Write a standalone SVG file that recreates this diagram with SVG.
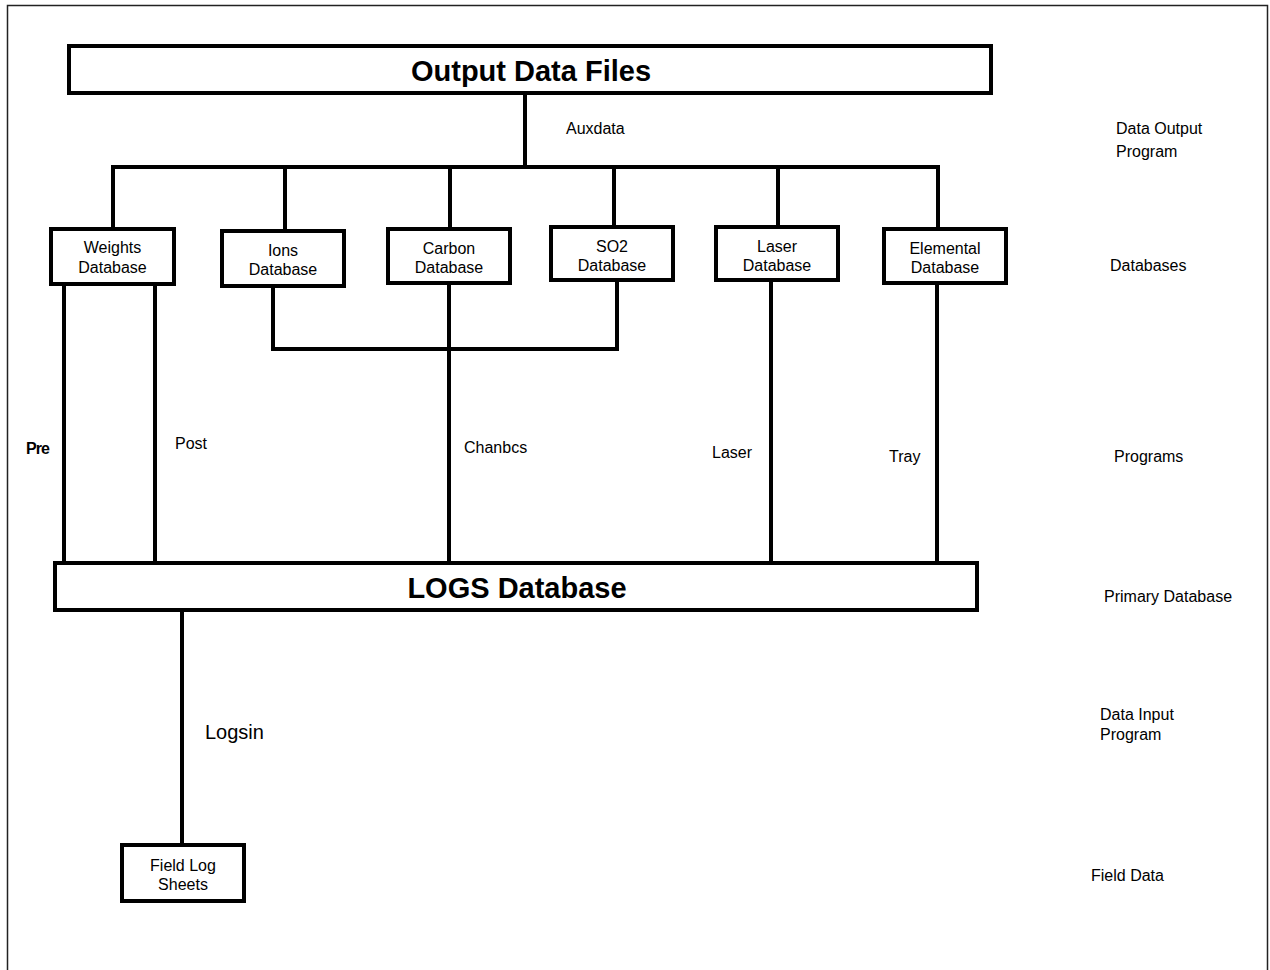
<svg xmlns="http://www.w3.org/2000/svg" width="1270" height="970" viewBox="0 0 1270 970">
  <style>
    .frame { fill: none; stroke: #222; stroke-width: 1.5; }
    .box { fill: #fff; stroke: #000; stroke-width: 4; }
    .wire { fill: none; stroke: #000; stroke-width: 4; stroke-linecap: square; stroke-linejoin: miter; }
    .t { font-family: "Liberation Sans", Arial, sans-serif; font-size: 16px; fill: #000; }
    .c { text-anchor: middle; }
    .lg { font-size: 20px; }
    .pre { font-weight: bold; letter-spacing: -1px; }
    .big { font-family: "Liberation Sans", Arial, sans-serif; font-size: 29px; font-weight: bold; fill: #000; text-anchor: middle; }
  </style>

  <rect width="1270" height="970" fill="#fff"/>
  <!-- page frame (open at the bottom) -->
  <path class="frame" d="M7.5,975 V5.5 H1267.5 V975"/>

  <!-- connectors -->
  <g id="connectors">
    <!-- Auxdata: output files to database bus -->
    <line class="wire" x1="525" y1="93" x2="525" y2="166"/>
    <line class="wire" x1="113" y1="167" x2="938" y2="167"/>
    <line class="wire" x1="113" y1="167" x2="113" y2="228"/>
    <line class="wire" x1="285" y1="167" x2="285" y2="230"/>
    <line class="wire" x1="450" y1="167" x2="450" y2="228"/>
    <line class="wire" x1="614" y1="167" x2="614" y2="226"/>
    <line class="wire" x1="778" y1="167" x2="778" y2="226"/>
    <line class="wire" x1="938" y1="167" x2="938" y2="228"/>
    <!-- Pre / Post -->
    <line class="wire" x1="64" y1="284" x2="64" y2="563"/>
    <line class="wire" x1="155" y1="284" x2="155" y2="563"/>
    <!-- Ions / SO2 join -->
    <polyline class="wire" points="273,287 273,349 617,349 617,280"/>
    <!-- Chanbcs -->
    <line class="wire" x1="449" y1="284" x2="449" y2="563"/>
    <!-- Laser -->
    <line class="wire" x1="771" y1="280" x2="771" y2="563"/>
    <!-- Tray -->
    <line class="wire" x1="937" y1="283" x2="937" y2="563"/>
    <!-- Logsin -->
    <line class="wire" x1="182" y1="610" x2="182" y2="845"/>
  </g>

  <g id="output-data-files">
    <rect class="box" x="69" y="46" width="922" height="47"/>
    <text class="big" x="531" y="81">Output Data Files</text>
  </g>

  <g id="weights-db">
    <rect class="box" x="51" y="229" width="123" height="55"/>
    <text class="t c" x="112.5" y="253">Weights</text>
    <text class="t c" x="112.5" y="273">Database</text>
  </g>

  <g id="ions-db">
    <rect class="box" x="222" y="231" width="122" height="55"/>
    <text class="t c" x="283" y="256">Ions</text>
    <text class="t c" x="283" y="275">Database</text>
  </g>

  <g id="carbon-db">
    <rect class="box" x="388" y="229" width="122" height="54"/>
    <text class="t c" x="449" y="254">Carbon</text>
    <text class="t c" x="449" y="273">Database</text>
  </g>

  <g id="so2-db">
    <rect class="box" x="551" y="227" width="122" height="53"/>
    <text class="t c" x="612" y="252">SO2</text>
    <text class="t c" x="612" y="271">Database</text>
  </g>

  <g id="laser-db">
    <rect class="box" x="716" y="227" width="122" height="53"/>
    <text class="t c" x="777" y="252">Laser</text>
    <text class="t c" x="777" y="271">Database</text>
  </g>

  <g id="elemental-db">
    <rect class="box" x="884" y="229" width="122" height="54"/>
    <text class="t c" x="945" y="254">Elemental</text>
    <text class="t c" x="945" y="273">Database</text>
  </g>

  <g id="logs-db">
    <rect class="box" x="55" y="563" width="922" height="47"/>
    <text class="big" x="517" y="598">LOGS Database</text>
  </g>

  <g id="field-log-sheets">
    <rect class="box" x="122" y="845" width="122" height="56"/>
    <text class="t c" x="183" y="871">Field Log</text>
    <text class="t c" x="183" y="890">Sheets</text>
  </g>

  <!-- program labels on the connectors -->
  <g id="program-labels">
    <text class="t" x="566" y="134">Auxdata</text>
    <text class="t pre" x="26" y="454">Pre</text>
    <text class="t" x="175" y="449">Post</text>
    <text class="t" x="464" y="453">Chanbcs</text>
    <text class="t" x="712" y="458">Laser</text>
    <text class="t" x="889" y="462">Tray</text>
    <text class="t lg" x="205" y="739">Logsin</text>
  </g>

  <!-- tier legend on the right -->
  <g id="tier-legend">
    <text class="t" x="1116" y="134">Data Output</text>
    <text class="t" x="1116" y="157">Program</text>
    <text class="t" x="1110" y="271">Databases</text>
    <text class="t" x="1114" y="462">Programs</text>
    <text class="t" x="1104" y="602">Primary Database</text>
    <text class="t" x="1100" y="720">Data Input</text>
    <text class="t" x="1100" y="740">Program</text>
    <text class="t" x="1091" y="881">Field Data</text>
  </g>
</svg>
